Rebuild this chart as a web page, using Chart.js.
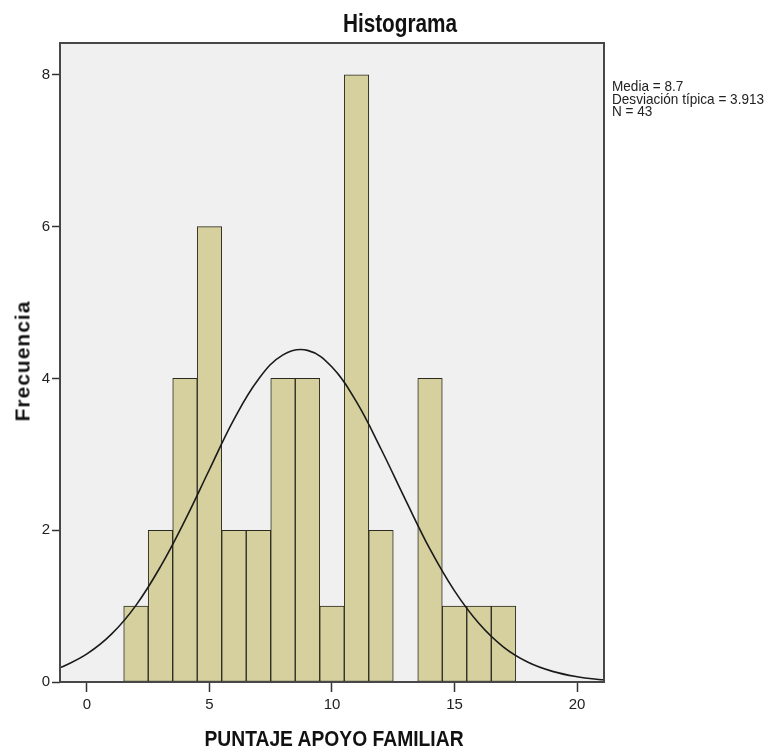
<!DOCTYPE html>
<html>
<head>
<meta charset="utf-8">
<script src="https://cdn.jsdelivr.net/npm/chart.js@4/dist/chart.umd.min.js"></script>
<style>
  html, body { margin: 0; padding: 0; background: #ffffff; }
  #wrap { position: relative; width: 773px; height: 751px; overflow: hidden; font-family: "Liberation Sans", Arial, sans-serif; }
  canvas { position: absolute; left: 0; top: 0; }
  .t { position: absolute; white-space: nowrap; color: #111; }
  #title { left: 400px; top: 11px; font-size: 25px; line-height: 25px; font-weight: bold; transform: translateX(-50%) scaleX(0.83); }
  #xtitle { left: 334px; top: 728px; font-size: 22px; line-height: 22px; font-weight: bold; transform: translateX(-50%) scaleX(0.876); }
  #ytitle { left: 22px; top: 361px; font-size: 21px; line-height: 21px; font-weight: bold; letter-spacing: 1px; transform: translate(-50%, -50%) rotate(-90deg); }
  #stats { left: 612px; top: 80px; font-size: 15px; line-height: 12.5px; color: #222; transform-origin: 0 0; transform: scaleX(0.905); }
</style>
</head>
<body>
<div id="wrap">
  <canvas id="c" width="773" height="751"></canvas>
  <div class="t" id="title">Histograma</div>
  <div class="t" id="xtitle">PUNTAJE APOYO FAMILIAR</div>
  <div class="t" id="ytitle">Frecuencia</div>
  <div class="t" id="stats">Media = 8.7<br>Desviación típica = 3.913<br>N = 43</div>
</div>
<script>
// Histogram bins (bin centres) and frequencies
const binCenters = [2, 3, 4, 5, 6, 7, 8, 9, 10, 11, 12, 13, 14, 15, 16, 17];
const frequencies = [1, 2, 4, 6, 2, 2, 4, 4, 1, 8, 2, 0, 4, 1, 1, 1];

// Normal curve
const curveX = [-1.1, -1, 0, 1, 2, 3, 4, 5, 6, 7, 8, 9, 10, 11, 12, 13, 14, 15, 16, 17, 18, 19, 20, 21, 21.1];
const curveY = [0.19, 0.20, 0.37, 0.63, 1.01, 1.52, 2.13, 2.80, 3.46, 3.99, 4.31, 4.37, 4.15, 3.69, 3.07, 2.40, 1.75, 1.20, 0.77, 0.46, 0.26, 0.14, 0.07, 0.03, 0.03];

const xTicks = [0, 5, 10, 15, 20];
const yTicks = [0, 2, 4, 6, 8];

const barData = binCenters.map((x, i) => ({ x: x, y: frequencies[i] }));
const lineData = curveX.map((x, i) => ({ x: x, y: curveY[i] }));

const framePlugin = {
  id: 'frame',
  beforeDatasetsDraw(chart) {
    const a = chart.chartArea, ctx = chart.ctx;
    ctx.save();
    ctx.fillStyle = '#f0f0f0';
    ctx.fillRect(a.left, a.top, a.right - a.left, a.bottom - a.top);
    ctx.restore();
  },
  afterDraw(chart) {
    const a = chart.chartArea, ctx = chart.ctx;
    ctx.save();
    ctx.strokeStyle = '#474747';
    ctx.lineWidth = 2;
    ctx.strokeRect(a.left, a.top, a.right - a.left, a.bottom - a.top);
    ctx.restore();
  }
};

new Chart(document.getElementById('c'), {
  type: 'bar',
  data: {
    datasets: [
      {
        type: 'line',
        data: lineData,
        borderColor: '#1a1a1a',
        borderWidth: 1.6,
        pointRadius: 0,
        tension: 0.4,
        fill: false,
        order: 0
      },
      {
        type: 'bar',
        data: barData,
        backgroundColor: 'rgb(213,208,158)',
        borderColor: '#2a2a20',
        borderWidth: 1,
        borderSkipped: false,
        barPercentage: 1,
        categoryPercentage: 1,
        order: 1
      }
    ]
  },
  options: {
    responsive: false,
    animation: false,
    events: [],
    layout: { padding: { left: 0, top: 43, right: 169, bottom: 0 } },
    plugins: { legend: { display: false }, title: { display: false }, tooltip: { enabled: false } },
    scales: {
      x: {
        type: 'linear',
        min: -1.1,
        max: 21.1,
        offset: false,
        afterBuildTicks(scale) { scale.ticks = xTicks.map(v => ({ value: v })); },
        afterFit(scale) { scale.height = 69; },
        border: { display: false },
        grid: { offset: false, drawOnChartArea: false, drawTicks: true, tickLength: 10, tickColor: '#333', tickWidth: 1.5 },
        ticks: { color: '#222', font: { family: 'Liberation Sans', size: 15 }, padding: 4, maxRotation: 0, autoSkip: false }
      },
      y: {
        type: 'linear',
        min: 0,
        max: 8.42,
        afterBuildTicks(scale) { scale.ticks = yTicks.map(v => ({ value: v })); },
        afterFit(scale) { scale.width = 60; },
        border: { display: false },
        grid: { drawOnChartArea: false, drawTicks: true, tickLength: 8, tickColor: '#333', tickWidth: 1.5 },
        ticks: { color: '#222', font: { family: 'Liberation Sans', size: 15 }, padding: 2, autoSkip: false }
      }
    }
  },
  plugins: [framePlugin]
});
</script>
</body>
</html>
